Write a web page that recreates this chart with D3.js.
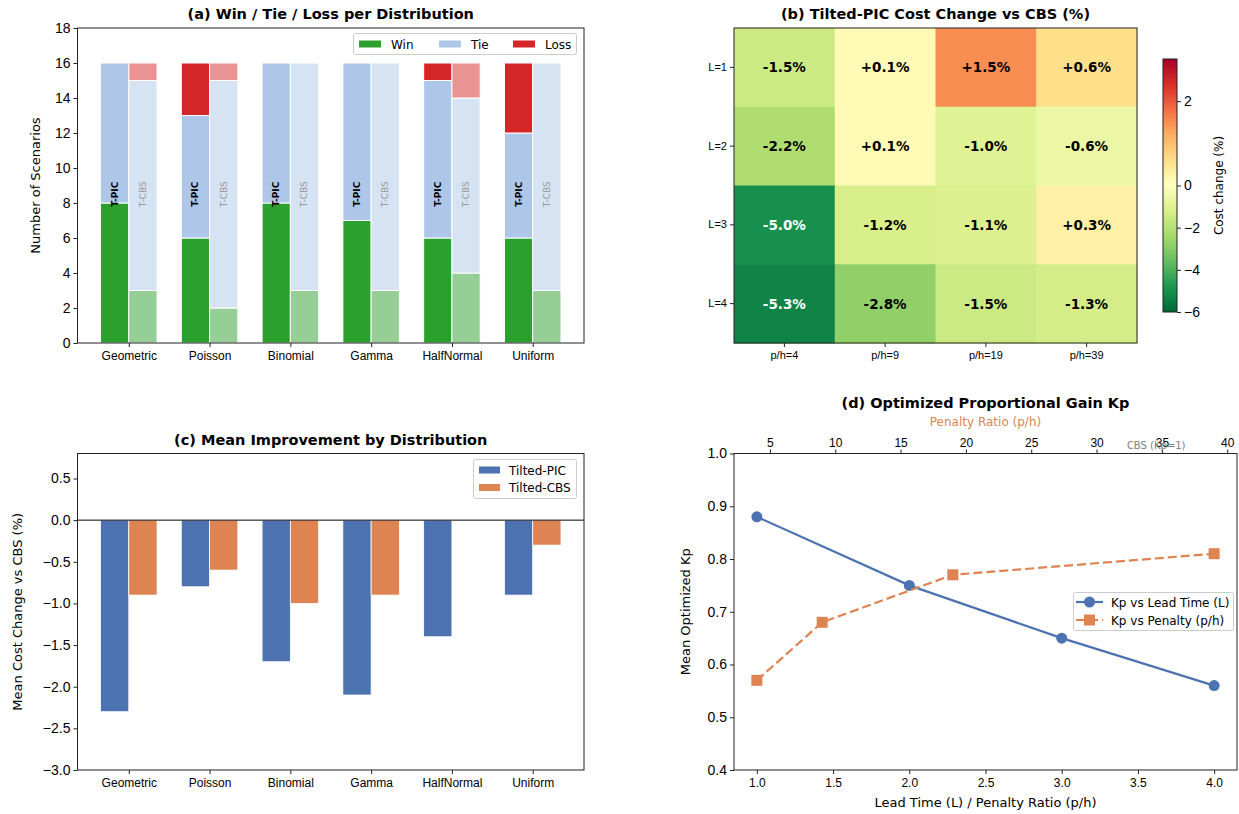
<!DOCTYPE html>
<html>
<head>
<meta charset="UTF-8">
<script src="https://cdn.jsdelivr.net/npm/d3@7"></script>
<style>
  body { margin: 0; background: #fff; }
  svg { font-family: "DejaVu Sans", sans-serif; display: block; }
  .title { font-weight: bold; font-size: 14.5px; text-anchor: middle; }
  .tick line { stroke: #222; }
  .tick text { fill: #000; }
  .spine { fill: none; stroke: #222; stroke-width: 1; }
</style>
</head>
<body>
<script>
// ---- data ----
const dists = ['Geometric', 'Poisson', 'Binomial', 'Gamma', 'HalfNormal', 'Uniform'];

// (a) win / tie / loss counts (out of 16 scenarios)
const picWin  = [8, 6, 8, 7, 6, 6];
const picTie  = [8, 7, 8, 9, 9, 6];
const picLoss = [0, 3, 0, 0, 1, 4];
const cbsWin  = [3, 2, 3, 3, 4, 3];
const cbsTie  = [12, 13, 13, 13, 10, 13];
const cbsLoss = [1, 1, 0, 0, 2, 0];

// (b) heatmap of cost change (%)
const heatRows = ['L=1', 'L=2', 'L=3', 'L=4'];
const heatCols = ['p/h=4', 'p/h=9', 'p/h=19', 'p/h=39'];
const heatVals = [
  [-1.5, 0.1, 1.5, 0.6],
  [-2.2, 0.1, -1.0, -0.6],
  [-5.0, -1.2, -1.1, 0.3],
  [-5.3, -2.8, -1.5, -1.3]
];
const cbarTicks = [-6, -4, -2, 0, 2];

// (c) mean cost change
const meanPIC = [-2.3, -0.8, -1.7, -2.1, -1.4, -0.9];
const meanCBS = [-0.9, -0.6, -1.0, -0.9, 0.0, -0.3];

// (d) optimized Kp
const leadTimes = [1, 2, 3, 4];
const kpLead = [0.88, 0.75, 0.65, 0.56];
const penaltyRatios = [4, 9, 19, 39];
const kpPenalty = [0.57, 0.68, 0.77, 0.81];

// ---- setup ----
const W = 1239, H = 814;
const svg = d3.select('body').append('svg').attr('width', W).attr('height', H);

const green = '#2ca02c', tieBlue = '#aec7e8', red = '#d62728';
const blue = '#4c72b0', orange = '#dd8452';

function styleAxis(g, size) {
  g.select('.domain').remove();
  g.selectAll('.tick text').style('font-size', size + 'px');
}

function spine(x0, y0, x1, y1) {
  svg.append('rect').attr('class', 'spine')
    .attr('x', x0).attr('y', y0).attr('width', x1 - x0).attr('height', y1 - y0);
}

function title(x, y, txt) {
  svg.append('text').attr('class', 'title').attr('x', x).attr('y', y).text(txt);
}

function yLabel(x, y, txt, size) {
  svg.append('text')
    .attr('transform', `translate(${x},${y}) rotate(-90)`)
    .attr('text-anchor', 'middle')
    .style('font-size', size + 'px')
    .text(txt);
}

// =========== (a) ===========
{
  const L = 77.5, R = 584, T = 28, B = 343;
  const x = d3.scaleLinear().domain([-0.635, 5.635]).range([L, R]);
  const y = d3.scaleLinear().domain([0, 18]).range([B, T]);
  const bw = 0.35;
  const keys = ['win', 'tie', 'loss'];
  const cols = {win: green, tie: tieBlue, loss: red};

  const picRows = dists.map((d, i) => ({win: picWin[i], tie: picTie[i], loss: picLoss[i]}));
  const cbsRows = dists.map((d, i) => ({win: cbsWin[i], tie: cbsTie[i], loss: cbsLoss[i]}));
  const stack = d3.stack().keys(keys);

  function drawStack(rows, off, op) {
    stack(rows).forEach(s => {
      const segs = s.map((d, i) => ({i, y0: d[0], y1: d[1]})).filter(d => d.y1 > d.y0);
      svg.append('g').selectAll('rect').data(segs).enter().append('rect')
        .attr('x', d => x(d.i + off))
        .attr('width', x(bw) - x(0))
        .attr('y', d => y(d.y1))
        .attr('height', d => y(d.y0) - y(d.y1))
        .attr('fill', cols[s.key])
        .attr('fill-opacity', op)
        .attr('stroke', '#fff').attr('stroke-width', 1);
    });
  }
  drawStack(picRows, -bw, 1);
  drawStack(cbsRows, 0, 0.5);

  // bar labels
  dists.forEach((d, i) => {
    svg.append('text')
      .attr('transform', `translate(${x(i - bw / 2) + 3},${y(8.5)}) rotate(-90)`)
      .attr('text-anchor', 'middle')
      .style('font-size', '9px').style('font-weight', 'bold')
      .text('T-PIC');
    svg.append('text')
      .attr('transform', `translate(${x(i + bw / 2) + 3},${y(8.5)}) rotate(-90)`)
      .attr('text-anchor', 'middle')
      .style('font-size', '9px').attr('fill', '#999')
      .text('T-CBS');
  });

  svg.append('g').attr('transform', `translate(${L},0)`)
    .call(d3.axisLeft(y).tickValues(d3.range(0, 19, 2)).tickSize(4).tickPadding(3).tickFormat(d3.format('d')))
    .call(g => styleAxis(g, 14));
  svg.append('g').attr('transform', `translate(0,${B})`)
    .call(d3.axisBottom(x).tickValues(d3.range(6)).tickSize(4).tickPadding(4).tickFormat(i => dists[i]))
    .call(g => styleAxis(g, 12));
  spine(L, T, R, B);
  title((L + R) / 2, 19, '(a) Win / Tie / Loss per Distribution');
  yLabel(40, (T + B) / 2, 'Number of Scenarios', 13);

  // legend
  const lg = svg.append('g');
  lg.append('rect').attr('x', 353.5).attr('y', 33.5).attr('width', 223).attr('height', 21)
    .attr('rx', 2).attr('fill', '#fff').attr('fill-opacity', 0.8).attr('stroke', '#ccc');
  const items = [['Win', green, 359], ['Tie', tieBlue, 439], ['Loss', red, 513]];
  items.forEach(([t, c, px]) => {
    lg.append('rect').attr('x', px).attr('y', 40.5).attr('width', 22).attr('height', 7).attr('fill', c);
    lg.append('text').attr('x', px + 32).attr('y', 48.5).style('font-size', '12px').text(t);
  });
}

// =========== (b) ===========
{
  const L = 734, R = 1137, T = 28, B = 343;
  const x = d3.scaleBand().domain(heatCols).range([L, R]);
  const y = d3.scaleBand().domain(heatRows).range([T, B]);
  const ramp = d3.piecewise(d3.interpolateRgb, d3.schemeRdYlGn[11].slice().reverse());
  const norm = d3.scaleLinear().domain([-6, 0, 3]).range([0, 0.5, 1]).clamp(true);
  const color = v => ramp(norm(v));

  const cells = [];
  heatVals.forEach((row, r) => row.forEach((v, c) => cells.push({r, c, v})));

  svg.append('g').selectAll('rect').data(cells).enter().append('rect')
    .attr('x', d => x(heatCols[d.c]))
    .attr('y', d => y(heatRows[d.r]))
    .attr('width', x.bandwidth() + 0.5)
    .attr('height', y.bandwidth() + 0.5)
    .attr('fill', d => color(d.v));

  svg.append('g').selectAll('text').data(cells).enter().append('text')
    .attr('x', d => x(heatCols[d.c]) + x.bandwidth() / 2)
    .attr('y', d => y(heatRows[d.r]) + y.bandwidth() / 2 + 5)
    .attr('text-anchor', 'middle')
    .style('font-size', '13.5px').style('font-weight', 'bold')
    .attr('fill', d => Math.abs(d.v) > 4 ? '#fff' : '#000')
    .text(d => (d.v >= 0 ? '+' : '-') + Math.abs(d.v).toFixed(1) + '%');

  svg.append('g').attr('transform', `translate(${L},0)`)
    .call(d3.axisLeft(y).tickSize(4).tickPadding(3))
    .call(g => styleAxis(g, 11));
  svg.append('g').attr('transform', `translate(0,${B})`)
    .call(d3.axisBottom(x).tickSize(4).tickPadding(4))
    .call(g => styleAxis(g, 11));
  spine(L, T, R, B);
  title((L + R) / 2, 19, '(b) Tilted-PIC Cost Change vs CBS (%)');

  // colorbar
  const cx0 = 1163, cx1 = 1177;
  const cy = d3.scaleLinear().domain([-6, 0, 3]).range([312, 185.5, 59]);
  const grad = svg.append('defs').append('linearGradient').attr('id', 'cbar')
    .attr('x1', 0).attr('y1', 1).attr('x2', 0).attr('y2', 0);
  d3.range(0, 1.0001, 0.02).forEach(t => {
    grad.append('stop').attr('offset', t).attr('stop-color', ramp(t));
  });
  svg.append('rect').attr('x', cx0).attr('y', cy(3)).attr('width', cx1 - cx0)
    .attr('height', cy(-6) - cy(3)).attr('fill', 'url(#cbar)');
  svg.append('g').attr('transform', `translate(${cx1},0)`)
    .call(d3.axisRight(cy).tickValues(cbarTicks).tickSize(4).tickPadding(3).tickFormat(d3.format('d')))
    .call(g => styleAxis(g, 14));
  spine(cx0, cy(3), cx1, cy(-6));
  svg.append('text')
    .attr('transform', `translate(1223,${cy(0)}) rotate(-90)`)
    .attr('text-anchor', 'middle').style('font-size', '12px')
    .text('Cost change (%)');
}

// =========== (c) ===========
{
  const L = 77.5, R = 584, T = 453.5, B = 770;
  const x = d3.scaleLinear().domain([-0.635, 5.635]).range([L, R]);
  const y = d3.scaleLinear().domain([-3, 0.8]).range([B, T]);
  const bw = 0.35;

  function bars(vals, off, c) {
    const data = vals.map((v, i) => ({i, v})).filter(d => d.v !== 0);
    svg.append('g').selectAll('rect').data(data).enter().append('rect')
      .attr('x', d => x(d.i + off))
      .attr('width', x(bw) - x(0))
      .attr('y', d => y(Math.max(0, d.v)))
      .attr('height', d => Math.abs(y(d.v) - y(0)))
      .attr('fill', c).attr('stroke', '#fff').attr('stroke-width', 0.8);
  }
  bars(meanPIC, -bw, blue);
  bars(meanCBS, 0, orange);

  svg.append('line').attr('x1', L).attr('x2', R).attr('y1', y(0)).attr('y2', y(0))
    .attr('stroke', '#000').attr('stroke-width', 1);

  svg.append('g').attr('transform', `translate(${L},0)`)
    .call(d3.axisLeft(y).tickValues(d3.range(-3, 0.51, 0.5)).tickSize(4).tickPadding(3).tickFormat(d3.format('.1f')))
    .call(g => styleAxis(g, 14));
  svg.append('g').attr('transform', `translate(0,${B})`)
    .call(d3.axisBottom(x).tickValues(d3.range(6)).tickSize(4).tickPadding(4).tickFormat(i => dists[i]))
    .call(g => styleAxis(g, 12));
  spine(L, T, R, B);
  title((L + R) / 2, 445, '(c) Mean Improvement by Distribution');
  yLabel(22, (T + B) / 2, 'Mean Cost Change vs CBS (%)', 13);

  const lg = svg.append('g');
  lg.append('rect').attr('x', 473.5).attr('y', 459.5).attr('width', 103).attr('height', 39)
    .attr('rx', 2).attr('fill', '#fff').attr('fill-opacity', 0.8).attr('stroke', '#ccc');
  [['Tilted-PIC', blue, 470], ['Tilted-CBS', orange, 487.5]].forEach(([t, c, cy]) => {
    lg.append('rect').attr('x', 479).attr('y', cy - 3.5).attr('width', 21).attr('height', 7).attr('fill', c);
    lg.append('text').attr('x', 509).attr('y', cy + 4.5).style('font-size', '12px').text(t);
  });
}

// =========== (d) ===========
{
  const L = 734, R = 1237, T = 453.5, B = 770;
  const x = d3.scaleLinear().domain([0.85, 4.15]).range([L, R]);
  const xTop = d3.scaleLinear().domain([2.25, 40.75]).range([L, R]);
  const y = d3.scaleLinear().domain([0.4, 1.0]).range([B, T]);

  const line = d3.line();
  svg.append('path')
    .attr('d', line(leadTimes.map((v, i) => [x(v), y(kpLead[i])])))
    .attr('fill', 'none').attr('stroke', blue).attr('stroke-width', 2.2);
  svg.append('g').selectAll('circle').data(leadTimes).enter().append('circle')
    .attr('cx', d => x(d)).attr('cy', (d, i) => y(kpLead[i])).attr('r', 5.5)
    .attr('fill', blue);

  svg.append('path')
    .attr('d', line(penaltyRatios.map((v, i) => [xTop(v), y(kpPenalty[i])])))
    .attr('fill', 'none').attr('stroke', orange).attr('stroke-width', 2.2)
    .attr('stroke-dasharray', '9,4');
  svg.append('g').selectAll('rect').data(penaltyRatios).enter().append('rect')
    .attr('x', d => xTop(d) - 5.5).attr('y', (d, i) => y(kpPenalty[i]) - 5.5)
    .attr('width', 11).attr('height', 11).attr('fill', orange);

  svg.append('g').attr('transform', `translate(${L},0)`)
    .call(d3.axisLeft(y).tickValues(d3.range(0.4, 1.01, 0.1)).tickSize(4).tickPadding(3).tickFormat(d3.format('.1f')))
    .call(g => styleAxis(g, 14));
  svg.append('g').attr('transform', `translate(0,${B})`)
    .call(d3.axisBottom(x).tickValues(d3.range(1, 4.01, 0.5)).tickSize(4).tickPadding(4).tickFormat(d3.format('.1f')))
    .call(g => styleAxis(g, 12));
  svg.append('g').attr('transform', `translate(0,${T})`)
    .call(d3.axisTop(xTop).tickValues(d3.range(5, 41, 5)).tickSize(4).tickPadding(3))
    .call(g => styleAxis(g, 12))
    .call(g => g.selectAll('.tick text').attr('fill', orange));
  spine(L, T, R, B);

  svg.append('text').attr('x', x(3.62)).attr('y', 449).attr('text-anchor', 'middle')
    .style('font-size', '10px').attr('fill', '#808080').text('CBS (Kp=1)');

  title((L + R) / 2, 408, '(d) Optimized Proportional Gain Kp');
  svg.append('text').attr('x', (L + R) / 2).attr('y', 426).attr('text-anchor', 'middle')
    .style('font-size', '12px').attr('fill', orange).text('Penalty Ratio (p/h)');
  svg.append('text').attr('x', (L + R) / 2).attr('y', 807).attr('text-anchor', 'middle')
    .style('font-size', '13px').text('Lead Time (L) / Penalty Ratio (p/h)');
  yLabel(690, (T + B) / 2, 'Mean Optimized Kp', 13);

  const lg = svg.append('g');
  lg.append('rect').attr('x', 1073.5).attr('y', 592.5).attr('width', 160).attr('height', 38)
    .attr('rx', 2).attr('fill', '#fff').attr('fill-opacity', 0.8).attr('stroke', '#ccc');
  lg.append('line').attr('x1', 1076).attr('x2', 1103).attr('y1', 602).attr('y2', 602)
    .attr('stroke', blue).attr('stroke-width', 2.2);
  lg.append('circle').attr('cx', 1089.5).attr('cy', 602).attr('r', 5.5).attr('fill', blue);
  lg.append('text').attr('x', 1111).attr('y', 606.5).style('font-size', '12px').text('Kp vs Lead Time (L)');
  lg.append('line').attr('x1', 1076).attr('x2', 1103).attr('y1', 620).attr('y2', 620)
    .attr('stroke', orange).attr('stroke-width', 2.2).attr('stroke-dasharray', '9,4');
  lg.append('rect').attr('x', 1084).attr('y', 614.5).attr('width', 11).attr('height', 11).attr('fill', orange);
  lg.append('text').attr('x', 1111).attr('y', 624.5).style('font-size', '12px').text('Kp vs Penalty (p/h)');
}
</script>
</body>
</html>
